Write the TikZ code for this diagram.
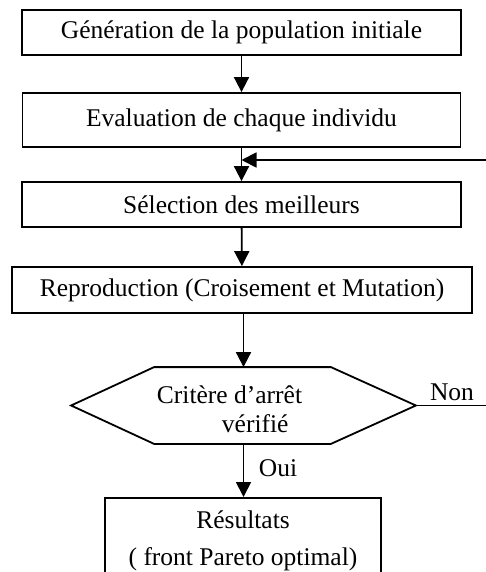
\documentclass[tikz,border=0pt]{standalone}
\usepackage{fontspec}
\setmainfont{Liberation Serif}
\usetikzlibrary{arrows.meta}
\begin{document}
\begin{tikzpicture}[x=1pt,y=-1pt,line width=1.8pt,
  txt/.style={font=\fontsize{25.5}{29}\selectfont},
  box/.style={draw,txt,inner sep=0pt,minimum width=#1},
  arr/.style={-{Triangle[width=15pt,length=15pt]}}]
\useasboundingbox (0,0) rectangle (485,572);
\node[box=439pt,minimum height=45pt] (n1) at (241.5,32.5) {Génération de la population initiale};
\node[box=438pt,minimum height=54pt] (n2) at (241.5,120) {Evaluation de chaque individu};
\node[box=439pt,minimum height=45pt,text depth=-6pt] (n3) at (241.5,204.5) {Sélection des meilleurs};
\node[box=460pt,minimum height=46pt] (n4) at (242,290) {Reproduction (Croisement et Mutation)};
\node[inner sep=0pt,minimum width=343pt,minimum height=75pt] (crit) at (243.5,405.5) {};
\draw (crit.west) -- ([xshift=83pt]crit.north west) -- ([xshift=-85pt]crit.north east)
  -- (crit.east) -- ([xshift=-85pt]crit.south east) -- ([xshift=83pt]crit.south west) -- cycle;
\node[txt,align=left,inner sep=0pt] (crittxt) at (229.5,409) {Critère d’arrêt\\\hspace*{65pt}vérifié};
\node[draw,inner sep=0pt,minimum width=276pt,minimum height=110pt,anchor=north] (res) at (243,497) {};
\node[txt,align=center,inner sep=0pt] (restxt) at (243,541) {Résultats\\[8pt]( front Pareto optimal)};
\node[txt,inner sep=0pt] (non) at (452,392) {Non};
\node[txt,inner sep=0pt] (oui) at (278,468) {Oui};
\coordinate (fb) at (486,160);
\coordinate (nonend) at (486,405.5);
\draw[arr] (n1) -- (n2);
\draw[arr] (n2) -- (n3);
\draw[arr] (fb) -- (fb -| n2);
\draw[arr] (n3) -- (n4);
\draw[arr] (n4.south -| crit) -- (crit.north);
\draw (crit.east) -- (nonend);
\draw[arr] (crit.south) -- (crit.south |- res.north);
\end{tikzpicture}
\end{document}
